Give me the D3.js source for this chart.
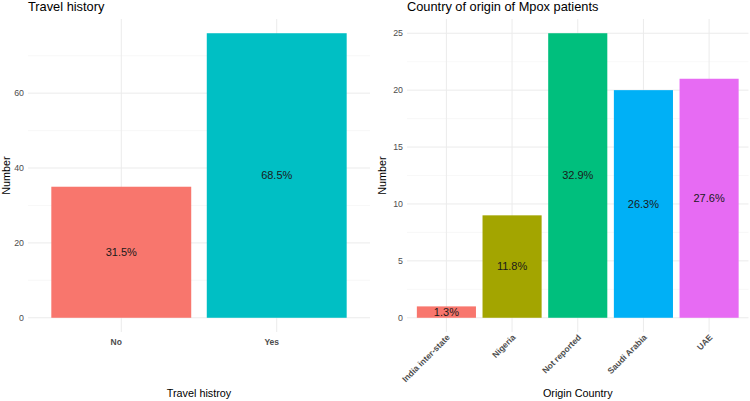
<!DOCTYPE html>
<html>
<head>
<meta charset="utf-8">
<script src="https://cdn.jsdelivr.net/npm/d3@7"></script>
<style>
body { margin: 0; background: #fff; }
svg { font-family: "Liberation Sans", Arial, sans-serif; }
.grid-major line { stroke: #ebebeb; stroke-width: 1; }
.grid-minor line { stroke: #f4f4f4; stroke-width: 0.6; }
.tick-y { fill: #4d4d4d; font-size: 8.8px; }
.tick-x { fill: #4d4d4d; font-size: 8.5px; font-weight: bold; }
.bar-label { fill: #1a1a1a; font-size: 11px; }
.title { fill: #000; font-size: 12.8px; }
.axis-title { fill: #000; font-size: 10.8px; }
</style>
</head>
<body>
<div class="container"></div>
<script>
var travelCats = ["No", "Yes"];
var travelVals = [35, 76];
var travelColors = ["#F8766D", "#00BFC4"];
var travelTicks = [0, 20, 40, 60];
var travelMinor = [10, 30, 50, 70];

var originCats = ["India inter-state", "Nigeria", "Not reported", "Saudi Arabia", "UAE"];
var originVals = [1, 9, 25, 20, 21];
var originColors = ["#F8766D", "#A3A500", "#00BF7D", "#00B0F6", "#E76BF3"];
var originTicks = [0, 5, 10, 15, 20, 25];
var originMinor = [2.5, 7.5, 12.5, 17.5, 22.5];

const WIDTH = 750;
const HEIGHT = 401;

var svg = d3.select('.container').append('svg')
	.attr('width', WIDTH)
	.attr('height', HEIGHT);

var translate = function(x, y){
	return "translate(" + x + "," + y + ")";
};

var drawPanel = function(opt){
	var g = svg.append('g');
	var n = opt.cats.length;
	var max = d3.max(opt.vals);

	// ggplot-style expansion: 0.6 units on discrete, 5% on continuous
	var xScale = d3.scaleLinear()
		.domain([0.4, n + 0.6])
		.range([opt.left, opt.right]);
	var yScale = d3.scaleLinear()
		.domain([-max * 0.05, max * 1.05])
		.range([opt.bottom, opt.top]);

	var total = d3.sum(opt.vals);

	g.append('g').classed('grid-minor', true)
		.selectAll('line').data(opt.minor).enter().append('line')
		.attr('x1', opt.left).attr('x2', opt.right)
		.attr('y1', d => yScale(d)).attr('y2', d => yScale(d));

	g.append('g').classed('grid-major', true)
		.selectAll('line').data(opt.ticks).enter().append('line')
		.attr('x1', opt.left).attr('x2', opt.right)
		.attr('y1', d => yScale(d)).attr('y2', d => yScale(d));

	g.append('g').classed('grid-major', true)
		.selectAll('line').data(opt.cats).enter().append('line')
		.attr('x1', (d, i) => xScale(i + 1)).attr('x2', (d, i) => xScale(i + 1))
		.attr('y1', opt.top).attr('y2', opt.bottom);

	g.selectAll('rect').data(opt.vals).enter().append('rect')
		.attr('x', (d, i) => xScale(i + 1 - 0.45))
		.attr('width', xScale(1.45) - xScale(0.55))
		.attr('y', d => yScale(d))
		.attr('height', d => yScale(0) - yScale(d))
		.attr('fill', (d, i) => opt.colors[i]);

	g.selectAll('text.bar-label').data(opt.vals).enter().append('text')
		.classed('bar-label', true)
		.attr('x', (d, i) => xScale(i + 1))
		.attr('y', d => yScale(d / 2))
		.attr('dy', '0.35em')
		.attr('text-anchor', 'middle')
		.text(d => (d / total * 100).toFixed(1) + '%');

	g.selectAll('text.tick-y').data(opt.ticks).enter().append('text')
		.classed('tick-y', true)
		.attr('x', opt.left - 4)
		.attr('y', d => yScale(d))
		.attr('dy', '0.35em')
		.attr('text-anchor', 'end')
		.text(d => d);

	if (opt.rotate) {
		g.selectAll('text.tick-x').data(opt.cats).enter().append('text')
			.classed('tick-x', true)
			.attr('text-anchor', 'end')
			.attr('transform', (d, i) => translate(xScale(i + 1) + 4, opt.bottom + 6) + " rotate(-45)")
			.text(d => d);
	} else {
		g.selectAll('text.tick-x').data(opt.cats).enter().append('text')
			.classed('tick-x', true)
			.attr('x', (d, i) => xScale(i + 1) - 5)
			.attr('y', opt.bottom + 13)
			.attr('text-anchor', 'middle')
			.text(d => d);
	}

	g.append('text').classed('title', true)
		.attr('x', opt.left)
		.attr('y', 11)
		.text(opt.title);

	g.append('text').classed('axis-title', true)
		.attr('x', (opt.left + opt.right) / 2)
		.attr('y', 397)
		.attr('text-anchor', 'middle')
		.text(opt.xTitle);

	g.append('text').classed('axis-title', true)
		.attr('transform', translate(opt.yTitleX, (opt.top + opt.bottom) / 2) + " rotate(-90)")
		.attr('text-anchor', 'middle')
		.text('Number');
};

drawPanel({
	cats: travelCats, vals: travelVals, colors: travelColors,
	ticks: travelTicks, minor: travelMinor,
	left: 28, right: 370, top: 19, bottom: 332,
	title: 'Travel history', xTitle: 'Travel histroy', yTitleX: 10, rotate: false
});

drawPanel({
	cats: originCats, vals: originVals, colors: originColors,
	ticks: originTicks, minor: originMinor,
	left: 407, right: 748.5, top: 19, bottom: 332,
	title: 'Country of origin of Mpox patients', xTitle: 'Origin Country', yTitleX: 386, rotate: true
});
</script>
</body>
</html>
